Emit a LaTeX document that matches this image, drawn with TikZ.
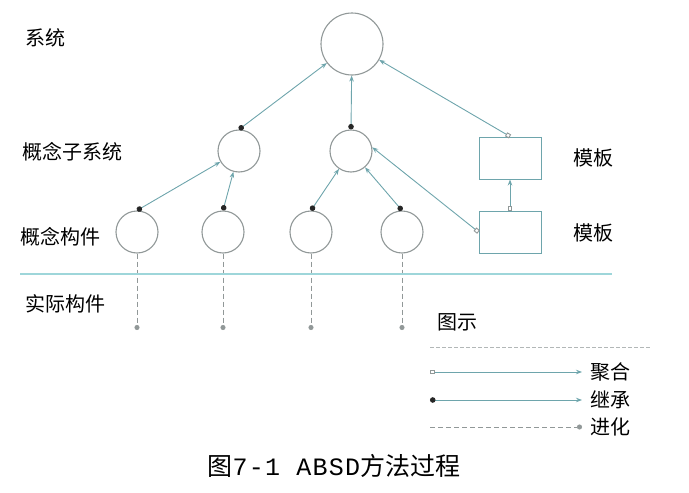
\documentclass[tikz,border=0pt]{standalone}
\usepackage{fontspec}
\usepackage{tikz}
\usetikzlibrary{arrows.meta}
\newfontfamily\cjk{Noto Sans CJK SC}
\newfontfamily\capmono{Liberation Mono}[LetterSpace=5]
\definecolor{mylink}{RGB}{110,165,172}
\definecolor{mycirc}{RGB}{145,152,152}
\definecolor{myrule}{RGB}{158,214,218}
\tikzset{
  comp/.style={circle, draw=mycirc, line width=1.1pt, minimum size=42pt, inner sep=0pt},
  tpl/.style={draw=mylink, line width=1pt, minimum width=62pt, minimum height=42pt, inner sep=0pt},
  lbl/.style={font=\cjk\fontsize{20}{24}\selectfont, anchor=west, inner sep=2pt},
  inh/.style={draw=mylink, line width=0.9pt, {Circle[length=5.5pt,color=black!85]}-{Stealth[length=6pt,width=4.5pt]}},
  agg/.style={draw=mylink, line width=0.9pt, {Square[open,length=4.5pt,color=mycirc]}-{Stealth[length=6pt,width=4.5pt]}},
  evo/.style={draw=mycirc, line width=0.9pt, dash pattern=on 5pt off 3pt, -{Circle[length=5pt,color=mycirc]}}
}

\begin{document}
\begin{tikzpicture}[x=1pt,y=-1pt]
\useasboundingbox (0,0) rectangle (689,493);

% niveis
\node[comp, minimum size=62pt] (sys) at (352,44) {};
\node[comp] (subL) at (239,151) {};
\node[comp] (subM) at (351,151) {};
\node[tpl] (tplA) at (510,158) {};
\node[tpl] (tplB) at (510,232) {};
\foreach \x [count=\i] in {137,223,311,402}{
  \node[comp] (cmp\i) at (\x,232) {};
  \coordinate (real\i) at (\x,330);
  \draw[evo] (cmp\i.south) -- (real\i);
}

% ligacoes
\draw[inh] (subL.north) -- (sys);
\draw[inh] (subM.north) -- (sys);
\draw[agg] (tplA.north) -- (sys);
\draw[inh] (cmp1.north) -- (subL);
\draw[inh] (cmp2.north) -- (subL);
\draw[inh] (cmp3.north) -- (subM);
\draw[inh] (cmp4.north) -- (subM);
\draw[agg] (tplB.west) -- (subM.10);
\draw[agg] (tplB.north) -- (tplA.south);

% linha divisoria
\coordinate (ruleL) at (20,274);
\coordinate (ruleR) at (612,274);
\draw[myrule, line width=2.5pt] (ruleL) -- (ruleR);

% rotulos
\node[lbl] (tSys) at (23,38) {系统};
\node[lbl] (tSub) at (20,152) {概念子系统};
\node[lbl] (tCmp) at (18,237) {概念构件};
\node[lbl] (tReal) at (23,304) {实际构件};
\node[lbl] (tTplA) at (571,158) {模板};
\node[lbl] (tTplB) at (571,233) {模板};

% legenda
\node[lbl] (tLeg) at (435,322) {图示};
\coordinate (legL) at (430,347);
\coordinate (legR) at (650,347);
\draw[mycirc!70, line width=0.8pt, dash pattern=on 4pt off 2pt] (legL) -- (legR);
\foreach \y/\s/\t [count=\i] in {372/agg/聚合, 400/inh/继承, 427/evo/进化}{
  \coordinate (leg\i) at (430,\y);
  \node[lbl] (tLeg\i) at (588,\y) {\t};
  \draw[\s] (leg\i) -- ([xshift=-6pt]tLeg\i.west);
}

% legenda da figura
\node[font=\cjk\fontsize{25}{30}\selectfont] (cap) at (334,466) {图{\capmono 7-1 ABSD}方法过程};

\end{tikzpicture}
\end{document}
